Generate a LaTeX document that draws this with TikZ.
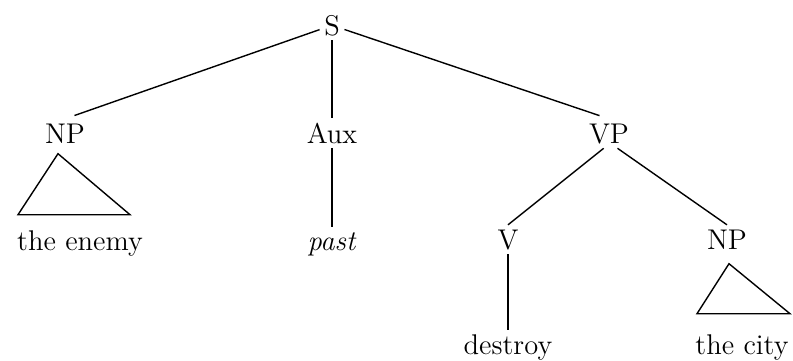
\documentclass[tikz,border=0pt]{standalone}
\usepackage{tikz}
\usetikzlibrary{positioning}

\begin{document}
\begin{tikzpicture}[x=0.5pt, y=-0.5pt, line width=0.7pt,
    font=\fontsize{14.25}{17}\selectfont,
    cat/.style={inner sep=2pt, anchor=base},
    word/.style={inner sep=2pt, anchor=base}]
    \useasboundingbox (0,0) rectangle (793,360);

    \node[cat] (s) at (332,35) {S};
    \node[cat] (np1) at (65,143) {NP};
    \node[cat] (aux) at (332,143) {Aux};
    \node[cat] (vp) at (609,143) {VP};
    \node[cat] (v) at (508,249) {V};
    \node[cat] (np2) at (727,249) {NP};

    \node[word] (enemy) at (80,250) {the enemy};
    \node[word] (past) at (332,250) {\textit{past}};
    \node[word] (destroy) at (508,354) {destroy};
    \node[word] (city) at (742,354) {the city};

    \draw[shorten >=5pt] (s) -- (np1.north);
    \draw (s) -- (aux);
    \draw[shorten >=5pt] (s) -- (vp.north);
    \draw (aux) -- (past);
    \draw (vp.-110) -- (v.north);
    \draw (vp.-60) -- (np2.north);
    \draw (v) -- (destroy);

    % triangles under the NPs
    \draw (np1.south) ++(-7,6) -- ++(-40,61) -- ++(112,0) -- cycle;
    \draw (np2.south) ++(2,10) -- ++(-32,50) -- ++(93,0) -- cycle;
\end{tikzpicture}
\end{document}
